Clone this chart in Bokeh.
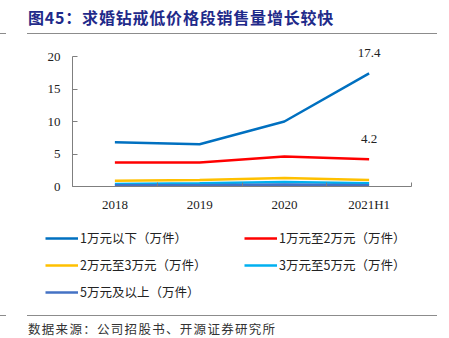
from bokeh.plotting import figure
from bokeh.models import (Label, Legend, LegendItem, FixedTicker, Div, Range1d)
from bokeh.embed import file_html
from bokeh.resources import INLINE

categories = ["2018", "2019", "2020", "2021H1"]
s_lt1 = [6.8, 6.5, 10.0, 17.4]
s_1to2 = [3.7, 3.7, 4.6, 4.2]
s_2to3 = [0.9, 1.0, 1.3, 1.0]
s_3to5 = [0.4, 0.5, 0.7, 0.5]
s_5up = [0.2, 0.2, 0.3, 0.2]
names = ["1万元以下（万件）", "1万元至2万元（万件）", "2万元至3万元（万件）",
         "3万元至5万元（万件）", "5万元及以上（万件）"]
colors = ["#0070C0", "#FF0000", "#FFC000", "#00B0F0", "#4472C4"]
y_ticks = [0, 5, 10, 15, 20]
title_text = "图45：求婚钻戒低价格段销售量增长较快"
source_text = "数据来源：公司招股书、开源证券研究所"

W = 449
TOP_H, CH_H, LG_H, BOT_H = 35, 185, 95, 23
FL, FR = 72, 411
AX_TOP, AX_BOT = 56, 186          # pixel rows of 20 and 0 on the axis
FRAME_TOP = 37
FT, FB = FRAME_TOP - TOP_H, AX_BOT - TOP_H
y_top = y_ticks[-1] + (AX_TOP - FRAME_TOP) * y_ticks[-1] / (AX_BOT - AX_TOP)

xpos = [i + 0.5 for i in range(len(categories))]
series = [s_lt1, s_1to2, s_2to3, s_3to5, s_5up]

p = figure(width=W, height=CH_H, output_backend="svg", toolbar_location=None,
           x_range=(0, len(categories)), y_range=(0, y_top),
           min_border_left=FL, min_border_right=W - FR,
           min_border_top=FT, min_border_bottom=CH_H - FB, margin=0)
p.outline_line_color = None
p.background_fill_color = "white"
p.border_fill_color = "white"
p.xgrid.visible = False
p.ygrid.visible = False

ax = p.xaxis[0]
ax.ticker = FixedTicker(ticks=xpos, minor_ticks=list(range(0, len(categories) + 1)))
ax.major_label_overrides = {x: c for x, c in zip(xpos, categories)}
ax.major_tick_line_color = None
ax.minor_tick_in = 4
ax.minor_tick_out = 0
ax.minor_tick_line_color = "#7f7f7f"
ax.axis_line_color = "#7f7f7f"
ax.major_label_text_font = "Liberation Serif"
ax.major_label_text_font_size = "13px"
ax.major_label_text_color = "#222222"
ax.major_label_standoff = 4

ay = p.yaxis[0]
ay.ticker = FixedTicker(ticks=y_ticks)
ay.bounds = (y_ticks[0], y_ticks[-1])
ay.major_tick_in = 5
ay.major_tick_out = 0
ay.minor_tick_line_color = None
ay.major_tick_line_color = "#7f7f7f"
ay.axis_line_color = "#7f7f7f"
ay.major_label_text_font = "Liberation Serif"
ay.major_label_text_font_size = "13px"
ay.major_label_text_color = "#222222"
ay.major_label_standoff = 12

for col, vals in zip(colors, series):
    p.line(xpos, vals, line_color=col, line_width=2.5)

for vals in (s_lt1, s_1to2):
    p.add_layout(Label(x=xpos[-1], y=vals[-1], text=f"{vals[-1]:.1f}",
                       text_font="Liberation Serif", text_font_size="13px",
                       text_color="#222222", text_align="center",
                       text_baseline="bottom", y_offset=16))

# legend panel: same series, lines kept outside its visible range
lg = figure(width=W, height=LG_H, output_backend="svg", toolbar_location=None,
            x_range=Range1d(100, 101), y_range=Range1d(100, 101),
            x_axis_location=None, y_axis_location=None, min_border=0, margin=0)
lg.outline_line_color = None
lg.xgrid.visible = False
lg.ygrid.visible = False
lg_r = [lg.line(xpos, vals, line_color=col, line_width=2.5)
        for col, vals in zip(colors, series)]
# column-major fill -> rows read: 1,2 / 3,4 / 5
order = [0, 2, 4, 1, 3]
items = [LegendItem(label=names[i], renderers=[lg_r[i]]) for i in order]
legend = Legend(items=items, ncols=2, location=(45, 14),
                label_text_font="Noto Sans CJK SC", label_text_font_size="12.5px",
                label_text_color="#222222",
                glyph_width=33, glyph_height=14, label_standoff=2,
                label_width=156, spacing=8, padding=0, margin=0,
                border_line_color=None, background_fill_alpha=0)
lg.add_layout(legend)

rule = "position:absolute;height:1px;background:#8c8c8c;"
title_div = Div(width=W, height=TOP_H, margin=0, text=(
    f'<div style="position:relative;width:{W}px;height:{TOP_H}px;">'
    f'<div style="{rule}left:27px;top:33px;width:410px;"></div>'
    f'<div style="{rule}left:0px;top:33px;width:6px;"></div>'
    f'<div style="position:absolute;left:28px;top:5px;white-space:nowrap;'
    f'font-family:\'Noto Sans CJK SC\';font-weight:bold;font-size:16px;'
    f'letter-spacing:0.8px;line-height:24px;color:#1F2A8A;">{title_text}</div></div>'))
src_div = Div(width=W, height=BOT_H, margin=0, text=(
    f'<div style="position:relative;width:{W}px;height:{BOT_H}px;">'
    f'<div style="{rule}left:27px;top:0px;width:410px;"></div>'
    f'<div style="{rule}left:0px;top:0px;width:6px;"></div>'
    f'<div style="position:absolute;left:28px;top:5px;white-space:nowrap;'
    f'font-family:\'Noto Sans CJK SC\';font-size:12.5px;letter-spacing:1.3px;'
    f'line-height:18px;color:#333333;">{source_text}</div></div>'))

open("out.html", "w").write(file_html([title_div, p, lg, src_div], INLINE))
